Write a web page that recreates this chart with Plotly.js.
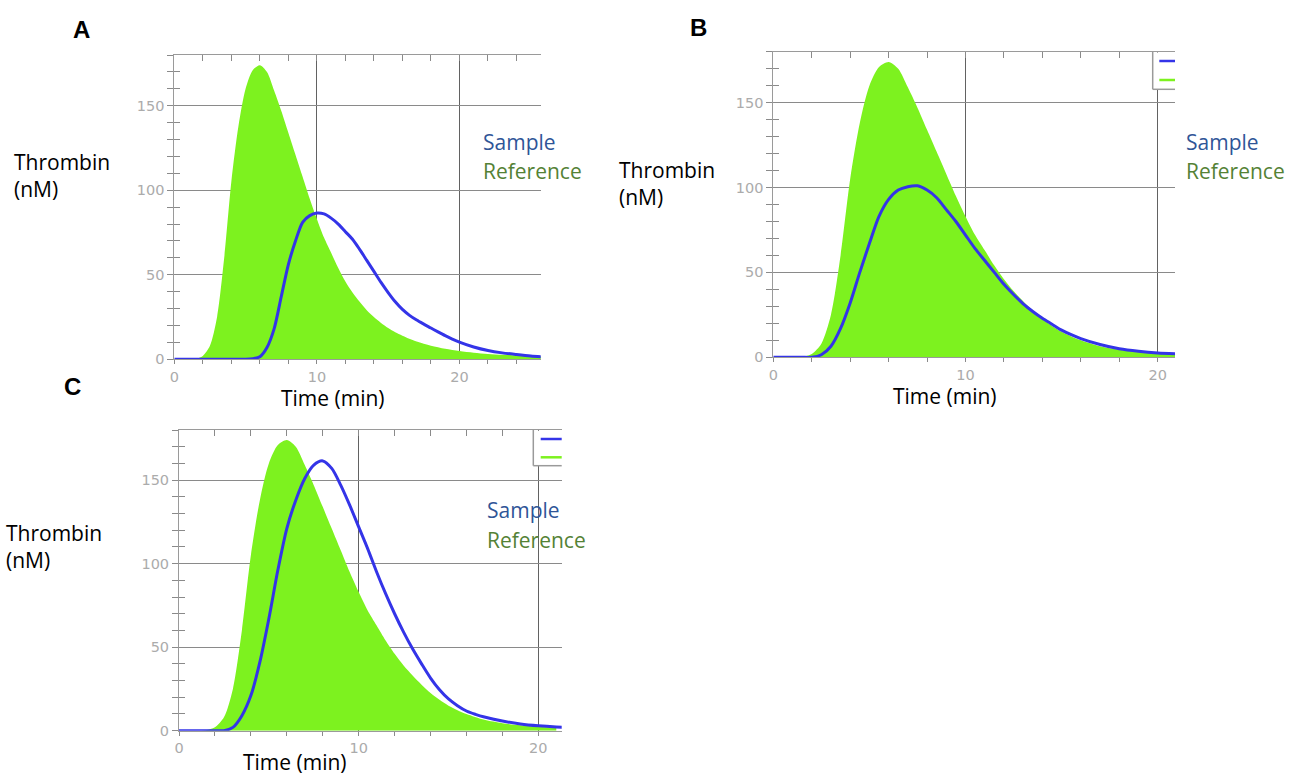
<!DOCTYPE html>
<html><head><meta charset="utf-8">
<script src="https://cdn.plot.ly/plotly-3.0.1.min.js"></script>
<style>html,body{margin:0;padding:0;background:#fff}#chart{width:1306px;height:777px}</style>
</head><body><div id="chart"></div>
<script>
// Reference (green, filled) thrombin generation curves
const refATime = [0,0.5,1,1.5,2,2.5,3,3.5,4,4.5,5,5.5,6,6.5,7,7.5,8,8.5,9,9.5,10,10.5,11,11.5,12,12.5,13,13.5,14,14.5,15,15.5,16,17,18,19,20,21,22,23,24,25,26];
const refAThrombin = [0,0,0,0.3,2,8,25,60,105,138,160,171,174,170,159,147,134,121,108,95,83,72,63,54,46,39.5,34,29,25,21.5,18.5,16,14,10.5,8,6.2,4.9,3.9,3.2,2.7,2.3,2,1.8];

const refBTime = [0,0.5,1,1.5,2,2.5,3,3.5,4,4.5,5,5.5,6,6.5,7,7.5,8,8.5,9,9.5,10,10.5,11,11.5,12,12.5,13,13.5,14,14.5,15,15.5,16,17,18,19,20,21];
const refBThrombin = [0,0,0,0.3,2,8,25,60,105,138,160,171,174,170,159,147,134,121,108,95,83,72,63,54,46,39,33,27.5,22.5,18.5,15,12.3,10,6.5,4.5,3.2,2.3,1.8];

const refCTime = refBTime;
const refCThrombin = refBThrombin;

// Sample (blue line) curves
const sampleATime = [0,1,2,3,4,4.5,5,5.5,6,6.5,7,7.5,8,8.5,9,9.5,10,10.5,11,11.5,12,12.5,13,13.5,14,14.5,15,15.5,16,16.5,17,17.5,18,18.5,19,19.5,20,21,22,23,24,25,26];
const sampleAThrombin = [0,0,0,0,0,0,0,0.3,1.5,7,18,37,56,70,81,85,86.5,86,83.5,80,75.5,71,65,58.5,52,45.5,39.5,34,29.5,26,23.2,20.8,18.5,16.2,14,12,10.2,7.3,5.2,3.8,2.8,1.9,1.3];

const sampleBTime = [0,0.5,1,1.5,2,2.5,3,3.5,4,4.5,5,5.5,6,6.5,7,7.5,8,8.5,9,9.5,10,10.5,11,11.5,12,12.5,13,13.5,14,14.5,15,15.5,16,17,18,19,20,21];
const sampleBThrombin = [0,0,0,0,0,1.5,6.5,17,32,50,67,83,93,98.5,100.5,101,98.5,94,87,80,72,64,57,50,43,37,31.5,27,23,19.5,16,13.3,11,7.5,5,3.5,2.5,2];

const sampleCTime = [0,0.5,1,1.5,2,2.5,3,3.5,4,4.5,5,5.5,6,6.5,7,7.5,8,8.5,9,9.5,10,10.5,11,11.5,12,12.5,13,13.5,14,14.5,15,15.5,16,16.5,17,18,19,20,21,22];
const sampleCThrombin = [0,0,0,0,0,0,2,9,21,41,67,96,121,138,151,159,161.5,157,147,135,122,109,95,82,70,59,49,40,31.5,24.5,19,15,11.8,9.8,8.2,5.8,4,2.9,2.2,1.8];

const xTickStep = 10, xMinorStep = 2, yTickStep = 50, yMinorStep = 10;
const panelLabels = ['A','B','C'];
const yLabel = ['Thrombin','(nM)'];
const xLabel = 'Time (min)';
const seriesNames = ['Sample','Reference'];

const W = 1306, H = 777;
const px = v => v / W, py = v => 1 - v / H;

const GREEN = '#7df21f', BLUE = '#3434e8';
const AX = '#9a9a9a', TICK = '#8a8a8a';
const TICKFONT = {family: 'DejaVu Sans', size: 14.5, color: '#ababab'};

function mainX(dom, range, anchor) {
  return {domain: dom, range: range, anchor: anchor, dtick: xTickStep, tick0: 0,
    ticks: 'outside', ticklen: 4, tickcolor: TICK, tickwidth: 1,
    showline: true, linecolor: AX, linewidth: 1,
    showgrid: true, gridcolor: '#626262', gridwidth: 1, zeroline: false,
    tickfont: TICKFONT,
    minor: {dtick: xMinorStep, ticks: 'outside', ticklen: 4, tickcolor: TICK, showgrid: false},
    fixedrange: true};
}
function mainY(dom, range, anchor) {
  return {domain: dom, range: range, anchor: anchor, dtick: yTickStep, tick0: 0,
    ticks: 'outside', ticklen: 6, tickcolor: TICK, tickwidth: 1,
    showline: true, linecolor: AX, linewidth: 1,
    showgrid: true, gridcolor: '#8a8a8a', gridwidth: 1, zeroline: false,
    tickfont: TICKFONT,
    minor: {dtick: yMinorStep, ticks: 'outside', ticklen: 6, tickcolor: TICK, showgrid: false},
    fixedrange: true};
}
function topX(over, range, anchor) {
  return {overlaying: over, side: 'top', anchor: anchor, range: range, dtick: xTickStep, tick0: 0,
    ticks: 'inside', ticklen: 6, tickcolor: TICK, showticklabels: false,
    showline: true, linecolor: AX, linewidth: 1, showgrid: false, zeroline: false,
    minor: {dtick: xMinorStep, ticks: 'inside', ticklen: 6, tickcolor: TICK, showgrid: false},
    fixedrange: true};
}
function innerY(over, range, anchor) {
  return {overlaying: over, side: 'left', anchor: anchor, range: range, dtick: yTickStep, tick0: 0,
    ticks: 'inside', ticklen: 6, tickcolor: TICK, showticklabels: false,
    showline: false, showgrid: false, zeroline: false,
    minor: {dtick: yMinorStep, ticks: 'inside', ticklen: 6, tickcolor: TICK, showgrid: false},
    fixedrange: true};
}

// panel geometry (pixels) -> domains
const panels = [
  {x0:174.3, x1:540.7, y0:55, y1:359.3, xr:[0,25.7], yr:[0,180], rt:refATime, rv:refAThrombin, st:sampleATime, sv:sampleAThrombin},
  {x0:773.3, x1:1175, y0:51.7, y1:357.3, xr:[0,20.9], yr:[0,180], rt:refBTime, rv:refBThrombin, st:sampleBTime, sv:sampleBThrombin},
  {x0:179, x1:561.7, y0:430, y1:730.7, xr:[0,21.3], yr:[0,180], rt:refCTime, rv:refCThrombin, st:sampleCTime, sv:sampleCThrombin}
];

const data = [];
const layout = {
  width: W, height: H, margin: {l:0, r:0, t:0, b:0},
  paper_bgcolor: '#fff', plot_bgcolor: '#fff', showlegend: false,
  annotations: [], shapes: []
};

panels.forEach((p, i) => {
  const n = i + 1, sfx = n === 1 ? '' : String(n);
  const xa = 'x' + sfx, ya = 'y' + sfx;
  const xo = 'x' + (n + 3), yo = 'y' + (n + 3);
  layout['xaxis' + sfx] = mainX([px(p.x0), px(p.x1)], p.xr, ya);
  layout['yaxis' + sfx] = mainY([py(p.y1), py(p.y0)], p.yr, xa);
  layout['xaxis' + (n + 3)] = topX(xa, p.xr, ya);
  layout['yaxis' + (n + 3)] = innerY(ya, p.yr, xa);
  data.push({x: p.rt, y: p.rv, xaxis: xa, yaxis: ya, type: 'scatter', mode: 'lines',
    fill: 'tozeroy', fillcolor: GREEN, line: {width: 0, color: GREEN, shape: 'spline', smoothing: 0.8},
    name: seriesNames[1], hoverinfo: 'skip'});
  data.push({x: p.st, y: p.sv, xaxis: xa, yaxis: ya, type: 'scatter', mode: 'lines',
    line: {width: 3, color: BLUE, shape: 'spline', smoothing: 0.8}, name: seriesNames[0], hoverinfo: 'skip'});
  data.push({x: [], y: [], xaxis: xo, yaxis: ya, type: 'scatter', mode: 'lines', hoverinfo: 'skip'});
  data.push({x: [], y: [], xaxis: xa, yaxis: yo, type: 'scatter', mode: 'lines', hoverinfo: 'skip'});
});

// text
const TXT = 'Open Sans';
const txt = (t, x, y, xa, size, color, family, bold) => layout.annotations.push({
  text: bold ? '<b>' + t + '</b>' : t, xref: 'paper', yref: 'paper', x: px(x), y: py(y),
  xanchor: xa, yanchor: 'middle', showarrow: false, borderpad: 0,
  font: {family: family || TXT, size: size, color: color}});

const labelPos = [
  {L:[82,29], th:[13,162,189], tm:[333,398], s:[482,142,171]},
  {L:[699,28], th:[618,170,197], tm:[945,396], s:[1185,142,171]},
  {L:[72,386], th:[5,533,560], tm:[295,762], s:[486,510,540]}
];
labelPos.forEach((q, i) => {
  txt(panelLabels[i], q.L[0], q.L[1], 'center', 24, '#000', 'Liberation Sans', true);
  txt(yLabel[0], q.th[0], q.th[1], 'left', 21, '#000');
  txt(yLabel[1], q.th[0], q.th[2], 'left', 21, '#000');
  txt(xLabel, q.tm[0], q.tm[1], 'center', 21, '#000');
  txt(seriesNames[0], q.s[0], q.s[1], 'left', 21, '#2F5597');
  txt(seriesNames[1], q.s[0], q.s[2], 'left', 21, '#548235');
});

// partially visible legend boxes (panels B and C)
function legendBox(x0, x1, y0, y1, yb, yg, lx0) {
  const P = (a) => Object.assign({xref: 'paper', yref: 'paper', layer: 'above'}, a);
  layout.shapes.push(P({type: 'rect', x0: px(x0), x1: px(x1), y0: py(y0 + 1), y1: py(y1), fillcolor: '#fff', line: {width: 0}}));
  layout.shapes.push(P({type: 'line', x0: px(x0), x1: px(x0), y0: py(y0), y1: py(y1), line: {color: AX, width: 1.5}}));
  layout.shapes.push(P({type: 'line', x0: px(x0), x1: px(x1), y0: py(y1), y1: py(y1), line: {color: AX, width: 1.5}}));
  layout.shapes.push(P({type: 'line', x0: px(lx0), x1: px(x1), y0: py(yb), y1: py(yb), line: {color: BLUE, width: 2.5}}));
  layout.shapes.push(P({type: 'line', x0: px(lx0), x1: px(x1), y0: py(yg), y1: py(yg), line: {color: GREEN, width: 2.5}}));
}
legendBox(1152.7, 1175, 51.7, 89.3, 61, 80, 1159.3);
legendBox(533.3, 561.7, 430, 465.7, 439, 457.3, 540.7);

Plotly.newPlot('chart', data, layout, {staticPlot: true, displayModeBar: false});
</script></body></html>
